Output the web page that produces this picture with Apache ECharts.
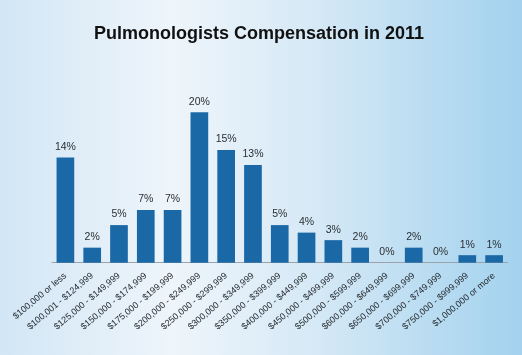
<!DOCTYPE html>
<html>
<head>
<meta charset="utf-8">
<script src="https://cdn.jsdelivr.net/npm/echarts@6/dist/echarts.min.js"></script>
<style>
html,body{margin:0;padding:0;}
#chart{width:522px;height:355px;}
</style>
</head>
<body>
<div id="chart"></div>
<script>
var categories = ["$100,000 or less","$100,001 - $124,999","$125,000 - $149,999","$150,000 - $174,999","$175,000 - $199,999","$200,000 - $249,999","$250,000 - $299,999","$300,000 - $349,999","$350,000 - $399,999","$400,000 - $449,999","$450,000 - $499,999","$500,000 - $599,999","$600,000 - $649,999","$650,000 - $699,999","$700,000 - $749,999","$750,000 - $999,999","$1,000,000 or more"];
var percentValues = [14,2,5,7,7,20,15,13,5,4,3,2,0,2,0,1,1];
var titleText = "Pulmonologists Compensation in 2011";

var chart = echarts.init(document.getElementById('chart'), null, {renderer:'canvas'});
chart.setOption({
  animation:false,
  backgroundColor:{
    type:'linear', x:0, y:0, x2:1, y2:0,
    colorStops:[
      {offset:0, color:'#d2e6f5'},
      {offset:0.33, color:'#eef5fb'},
      {offset:0.6, color:'#d6e9f6'},
      {offset:1, color:'#a3d2ee'}
    ]
  },
  title:{
    text:titleText, left:89, top:20,
    textStyle:{fontFamily:'Liberation Sans, Arial, sans-serif', fontWeight:'bold', fontSize:18, color:'#111111'}
  },
  grid:{left:52, right:14.5, top:112.3, bottom:92.3, containLabel:false},
  xAxis:{
    type:'category', data:categories,
    axisLine:{show:true, lineStyle:{color:'#9aa3ab', width:1}},
    axisTick:{show:false},
    axisLabel:{interval:0, rotate:40, margin:12, fontSize:9, color:'#1e2328',
      fontFamily:'Liberation Sans, Arial, sans-serif'}
  },
  yAxis:{
    type:'value', min:0, max:20, show:false, splitLine:{show:false}
  },
  series:[{
    type:'bar', data:percentValues, barCategoryGap:'34%',
    itemStyle:{color:'#1b68a6'},
    label:{show:true, position:'top', distance:5, formatter:'{c}%', fontSize:10.5,
      fontFamily:'Liberation Sans, Arial, sans-serif', color:'#2a2f33'}
  }]
});
</script>
</body>
</html>
